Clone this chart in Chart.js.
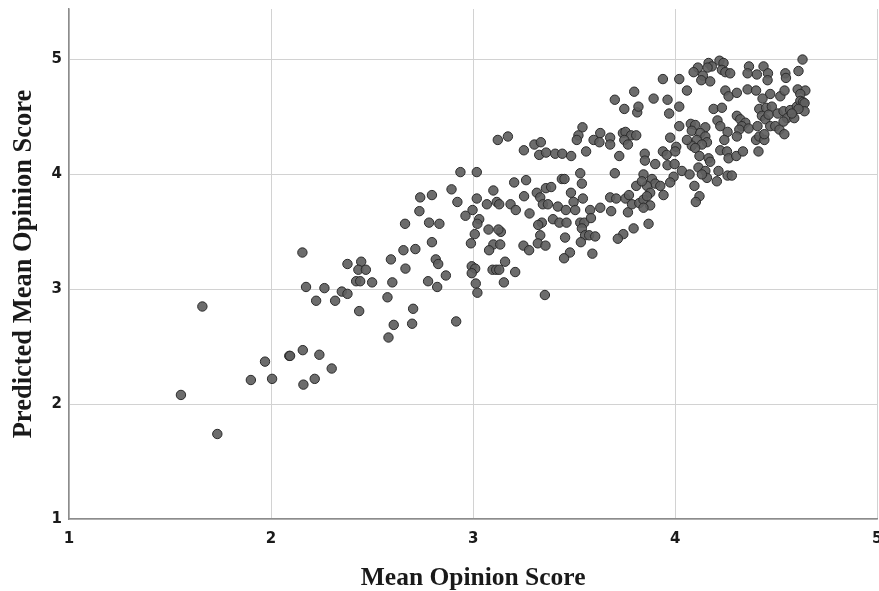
<!DOCTYPE html>
<html lang="en">
<head>
  <meta charset="UTF-8" />
  <title>Predicted vs Mean Opinion Score</title>
  <script src="https://cdn.jsdelivr.net/npm/chart.js"></script>
  <style>
    html, body { margin: 0; background: #fff; overflow: hidden; }
    #wrap { width: 879px; height: 591px; overflow: hidden; }
  </style>
</head>
<body>
  <div id="wrap">
    <!-- a bit wider than the window so the last x label gets clipped like the original -->
    <canvas id="grafico" width="883" height="591"></canvas>
  </div>

  <script>
    // values (x = MOS, y = predicted MOS)
    const mosX = [
      1.66, 1.97, 2.09, 1.90, 2.005, 1.554, 1.734,
      2.155, 2.378, 2.173, 2.264, 2.35, 2.378, 2.223, 2.317, 2.157, 2.094, 2.239, 2.30, 2.216, 2.16,
      2.738, 2.796, 2.734, 2.663, 2.782, 2.833, 2.796, 2.655, 2.714, 2.593, 2.815, 2.827, 2.446, 2.432,
      2.469, 2.665, 2.421, 2.441, 2.50, 2.60, 2.777, 2.822, 2.436, 2.576, 2.703, 2.607, 2.698, 2.581,
      2.937, 3.018, 2.893, 2.922, 3.018, 2.997, 2.962, 3.03, 3.021, 3.008, 2.989, 2.865, 2.993, 3.01,
      2.993, 3.013, 3.021, 2.916,
      3.748, 3.812, 3.818, 3.797, 3.701, 3.541, 3.521, 3.513, 3.122, 3.172, 3.596, 3.629, 3.625, 3.678,
      3.678, 3.741, 3.754, 3.782, 3.807, 3.748, 3.766, 3.303, 3.335, 3.251, 3.327, 3.361, 3.406, 3.441,
      3.485, 3.559, 3.723, 3.530, 3.701, 3.203, 3.262, 3.10, 3.068, 3.117, 3.129, 3.185, 3.211, 3.252,
      3.279, 3.315, 3.332, 3.36, 3.386, 3.345, 3.37, 3.439, 3.452, 3.538, 3.484, 3.497, 3.419, 3.459,
      3.505, 3.543, 3.629, 3.579, 3.678, 3.708, 3.683, 3.754, 3.771, 3.766, 3.786, 3.822, 3.807, 3.794,
      3.743, 3.716, 3.34, 3.322, 3.395, 3.427, 3.462, 3.53, 3.55, 3.583, 3.538, 3.554, 3.574, 3.604,
      3.533, 3.455, 3.479, 3.45, 3.59, 3.332, 3.32, 3.358, 3.249, 3.277, 3.10, 3.134, 3.079, 3.137,
      3.125, 3.076, 3.158, 3.096, 3.114, 3.129, 3.208, 3.152, 3.355,
      4.63, 4.61, 4.545, 4.548, 4.437, 4.459, 4.457, 4.404, 4.365, 4.358, 4.219, 4.239, 4.165, 4.181,
      4.16, 4.112, 4.091, 4.231, 4.248, 4.272, 4.137, 4.129, 4.173, 3.939, 4.02, 4.058, 4.248, 4.264,
      4.305, 4.358, 4.40, 4.47, 4.432, 4.52, 4.541, 4.606, 4.644, 4.619, 3.893, 3.962, 4.02, 3.97,
      4.19, 4.231, 4.305, 4.209, 4.223, 4.259, 4.322, 4.347, 4.33, 4.317, 4.363, 4.305, 4.243, 4.223,
      4.256, 4.264, 4.302, 4.335, 4.412, 4.40, 4.416, 4.441, 4.441, 4.416, 4.45, 4.478, 4.429, 4.446,
      4.462, 4.407, 4.47, 4.495, 4.516, 4.54, 4.507, 4.536, 4.553, 4.536, 4.569, 4.589, 4.602, 4.619,
      4.632, 4.64, 4.64, 4.61, 4.577, 4.077, 4.099, 4.149, 4.082, 4.124, 4.149, 4.107, 4.157, 4.132,
      4.082, 4.099, 4.058, 4.02, 3.975, 4.005, 4.0, 3.939, 3.958, 3.849, 3.85, 3.901, 3.962, 3.997,
      4.033, 4.071, 4.12, 4.165, 4.173, 4.115, 4.149, 4.157, 4.132, 4.214, 4.259, 4.28, 4.206, 4.095,
      4.12, 4.102, 3.992, 3.975, 3.843, 3.885, 3.901, 3.86, 3.926, 3.835, 3.876, 3.942, 3.843, 3.876,
      3.86, 3.868, 3.843
    ];
    const predY = [
      2.85, 2.37, 2.42, 2.21, 2.22, 2.08, 1.74,
      3.32, 3.22, 3.02, 3.01, 2.98, 2.96, 2.90, 2.90, 2.47, 2.42, 2.43, 2.31, 2.22, 2.17,
      3.80, 3.82, 3.68, 3.57, 3.58, 3.57, 3.41, 3.34, 3.35, 3.26, 3.26, 3.22, 3.24, 3.17,
      3.17, 3.18, 3.07, 3.07, 3.06, 3.06, 3.07, 3.02, 2.81, 2.93, 2.83, 2.69, 2.70, 2.58,
      4.02, 4.02, 3.87, 3.76, 3.79, 3.69, 3.64, 3.61, 3.57, 3.48, 3.40, 3.12, 3.20, 3.18,
      3.14, 3.05, 2.97, 2.72,
      4.57, 4.54, 4.59, 4.72, 4.65, 4.41, 4.34, 4.30, 4.30, 4.33, 4.30, 4.36, 4.28, 4.32,
      4.26, 4.36, 4.37, 4.34, 4.34, 4.30, 4.26, 4.26, 4.28, 4.21, 4.17, 4.19, 4.18, 4.18,
      4.16, 4.20, 4.16, 4.01, 4.01, 3.93, 3.95, 3.86, 3.74, 3.76, 3.74, 3.74, 3.69, 3.81,
      3.66, 3.84, 3.80, 3.88, 3.89, 3.74, 3.74, 3.96, 3.96, 3.92, 3.84, 3.76, 3.72, 3.69,
      3.69, 3.79, 3.71, 3.69, 3.80, 3.79, 3.68, 3.79, 3.82, 3.67, 3.74, 3.75, 3.90, 3.53,
      3.48, 3.44, 3.58, 3.56, 3.61, 3.58, 3.58, 3.58, 3.58, 3.62, 3.53, 3.47, 3.47, 3.46,
      3.41, 3.45, 3.32, 3.27, 3.31, 3.47, 3.40, 3.38, 3.38, 3.34, 3.39, 3.39, 3.34, 3.50,
      3.52, 3.52, 3.24, 3.17, 3.17, 3.17, 3.15, 3.06, 2.95,
      5.00, 4.90, 4.88, 4.84, 4.94, 4.88, 4.82, 4.87, 4.94, 4.88, 4.99, 4.97, 4.97, 4.94,
      4.93, 4.93, 4.89, 4.91, 4.89, 4.88, 4.86, 4.82, 4.81, 4.83, 4.83, 4.73, 4.73, 4.68,
      4.71, 4.74, 4.73, 4.70, 4.66, 4.68, 4.73, 4.74, 4.73, 4.70, 4.66, 4.65, 4.59, 4.53,
      4.57, 4.58, 4.51, 4.47, 4.42, 4.37, 4.48, 4.45, 4.42, 4.39, 4.40, 4.33, 4.30, 4.21,
      4.20, 4.14, 4.16, 4.20, 4.20, 4.30, 4.33, 4.30, 4.35, 4.57, 4.58, 4.59, 4.51, 4.48,
      4.52, 4.42, 4.42, 4.42, 4.39, 4.35, 4.53, 4.55, 4.49, 4.46, 4.56, 4.49, 4.59, 4.64,
      4.63, 4.62, 4.55, 4.57, 4.53, 4.44, 4.43, 4.41, 4.38, 4.36, 4.33, 4.30, 4.28, 4.26,
      4.25, 4.23, 4.30, 4.42, 4.32, 4.24, 4.20, 4.20, 4.17, 4.18, 4.12, 4.09, 4.08, 4.09,
      4.03, 4.00, 4.16, 4.14, 4.11, 4.06, 4.03, 3.97, 4.00, 4.03, 3.99, 3.99, 3.94, 3.90,
      3.81, 3.76, 3.98, 3.93, 4.00, 3.96, 3.92, 3.90, 3.90, 3.94, 3.84, 3.82, 3.78, 3.73,
      3.81, 3.57, 3.71
    ];

    const xTicks = [1, 2, 3, 4, 5];
    const yTicks = [1, 2, 3, 4, 5];

    const puntos = mosX.map((x, i) => ({ x: x, y: predY[i] }));

    const ctx = document.getElementById('grafico').getContext('2d');
    new Chart(ctx, {
      type: 'scatter',
      data: {
        datasets: [{
          label: 'MOS',
          data: puntos,
          pointRadius: 4.7,
          pointBackgroundColor: 'rgba(95,95,95,0.92)',
          pointBorderColor: '#2a2a2a',
          pointBorderWidth: 1
        }]
      },
      options: {
        responsive: false,
        devicePixelRatio: 1,
        animation: false,
        layout: { padding: { top: 9, right: -4, left: 0, bottom: 0 } },
        plugins: {
          legend: { display: false },
          tooltip: { enabled: false }
        },
        scales: {
          x: {
            type: 'linear',
            min: 1,
            max: 5,
            afterBuildTicks: s => { s.ticks = xTicks.map(v => ({ value: v })); },
            afterFit: s => { s.height = 72; s.paddingLeft = 0; s.paddingRight = 0; },
            grid: { color: '#d2d2d2', lineWidth: 1, drawTicks: false },
            border: { color: '#8c8c8c', width: 1.5 },
            ticks: {
              padding: 11,
              color: '#1a1a1a',
              font: { family: 'DejaVu Sans', size: 15, weight: 'bold' }
            },
            title: {
              display: true,
              text: 'Mean Opinion Score',
              color: '#1a1a1a',
              font: { family: 'Liberation Serif', size: 25.5, weight: 'bold' },
              padding: { top: 0, bottom: -3 }
            }
          },
          y: {
            type: 'linear',
            min: 1,
            max: 5.44,
            afterBuildTicks: s => { s.ticks = yTicks.map(v => ({ value: v })); },
            afterFit: s => { s.width = 69; s.paddingTop = 0; s.paddingBottom = 0; },
            grid: { color: '#d2d2d2', lineWidth: 1, drawTicks: false },
            border: { color: '#8c8c8c', width: 1.5 },
            ticks: {
              padding: 7,
              color: '#1a1a1a',
              font: { family: 'DejaVu Sans', size: 15, weight: 'bold' }
            },
            title: {
              display: true,
              text: 'Predicted Mean Opinion Score',
              color: '#1a1a1a',
              font: { family: 'Liberation Serif', size: 26.5, weight: 'bold' },
              padding: { top: 8, bottom: 0 }
            }
          }
        }
      }
    });
  </script>
</body>
</html>
